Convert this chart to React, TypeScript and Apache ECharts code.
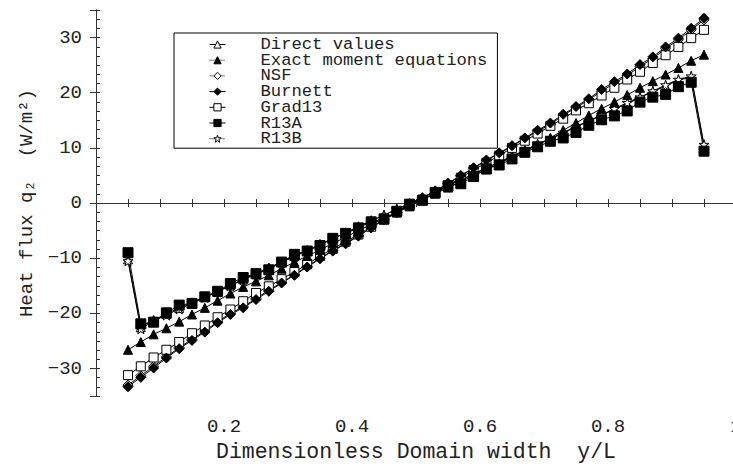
import React, { useEffect, useRef } from 'react';
import * as echarts from 'echarts';

const xValues = [0.05, 0.07, 0.09, 0.11, 0.13, 0.15, 0.17, 0.19, 0.21, 0.23, 0.25, 0.27, 0.29, 0.31, 0.33, 0.35, 0.37, 0.39, 0.41, 0.43, 0.45, 0.47, 0.49, 0.51, 0.53, 0.55, 0.57, 0.59, 0.61, 0.63, 0.65, 0.67, 0.69, 0.71, 0.73, 0.75, 0.77, 0.79, 0.81, 0.83, 0.85, 0.87, 0.89, 0.91, 0.93, 0.95];

const directValues = [-10.2, -22.5, -21.2, -20.1, -19.0, -18.0, -17.0, -16.0, -14.9, -13.8, -12.8, -11.7, -10.7, -9.6, -8.6, -7.5, -6.4, -5.4, -4.3, -3.2, -2.2, -1.1, -0.1, 1.0, 2.0, 3.1, 4.2, 5.2, 6.3, 7.4, 8.4, 9.5, 10.6, 11.6, 12.7, 13.8, 14.8, 15.9, 17.0, 18.0, 19.1, 20.2, 21.2, 22.3, 22.8, 10.3];

const exactValues = [-26.6, -25.2, -23.8, -22.7, -21.5, -20.2, -19.0, -17.7, -16.4, -15.2, -14.2, -13.1, -11.9, -10.7, -9.6, -8.5, -7.3, -6.2, -5.0, -3.9, -2.8, -1.7, -0.6, 0.6, 1.7, 2.8, 3.9, 5.0, 6.1, 7.2, 8.3, 9.4, 10.5, 11.8, 13.2, 14.5, 15.9, 17.1, 18.3, 19.6, 20.9, 22.1, 23.3, 24.5, 25.8, 26.9];

const nsfValues = [-33.0, -31.3, -29.6, -27.9, -26.2, -24.7, -23.2, -21.5, -20.0, -18.8, -17.3, -15.8, -14.4, -13.0, -11.5, -10.0, -8.6, -7.3, -5.9, -4.5, -3.0, -1.7, -0.4, 0.9, 2.2, 3.5, 4.9, 6.3, 7.7, 9.0, 10.3, 11.7, 13.0, 14.3, 15.9, 17.3, 18.7, 20.3, 21.7, 23.1, 24.8, 26.2, 28.0, 29.6, 31.4, 33.2];

const burnettValues = [-33.3, -31.6, -29.9, -28.1, -26.4, -24.9, -23.4, -21.7, -20.2, -19.0, -17.5, -16.0, -14.5, -13.1, -11.6, -10.1, -8.7, -7.4, -6.0, -4.5, -3.0, -1.7, -0.4, 0.9, 2.2, 3.6, 5.0, 6.4, 7.8, 9.1, 10.4, 11.8, 13.2, 14.5, 16.1, 17.5, 18.9, 20.6, 22.0, 23.4, 25.1, 26.5, 28.3, 29.9, 31.7, 33.5];

const grad13Values = [-31.2, -29.6, -28.0, -26.6, -25.2, -23.6, -22.2, -20.7, -19.3, -17.8, -16.3, -15.1, -13.8, -12.5, -11.1, -9.6, -8.3, -7.0, -5.7, -4.3, -3.0, -1.7, -0.5, 0.6, 1.8, 3.2, 4.6, 6.0, 7.3, 8.6, 10.0, 11.3, 12.6, 14.0, 15.3, 16.8, 18.1, 19.5, 20.9, 22.4, 23.8, 25.4, 26.8, 28.3, 29.9, 31.4];

const r13aValues = [-9.0, -21.9, -21.6, -19.9, -18.5, -18.2, -17.0, -16.0, -14.6, -13.5, -12.8, -12.1, -10.7, -9.3, -8.7, -7.7, -6.4, -5.5, -4.5, -3.4, -2.9, -1.5, -0.2, 0.5, 1.9, 3.1, 3.5, 4.8, 6.2, 6.9, 8.0, 9.2, 10.2, 11.2, 11.8, 12.8, 14.1, 15.1, 15.8, 16.7, 18.3, 19.2, 19.7, 21.1, 21.9, 9.4];

const r13bValues = [-10.5, -22.8, -21.4, -20.3, -19.2, -18.2, -17.1, -16.1, -15.0, -13.9, -12.9, -11.8, -10.7, -9.7, -8.6, -7.5, -6.5, -5.4, -4.3, -3.2, -2.2, -1.1, -0.1, 1.0, 2.1, 3.2, 4.2, 5.3, 6.4, 7.4, 8.5, 9.6, 10.7, 11.7, 12.8, 13.9, 14.9, 16.0, 17.1, 18.2, 19.2, 20.3, 21.4, 22.4, 23.0, 10.6];

const legendNames = ['Direct values', 'Exact moment equations', 'NSF', 'Burnett', 'Grad13', 'R13A', 'R13B'];
const legendDotted = [false, true, true, false, false, false, true];
const legendFilled = [false, true, false, true, false, true, false];

const xAxisTitle = 'Dimensionless Domain width  y/L';
const yAxisTitle = 'Heat flux q\u2082  (W/m\u00b2)';

const FONT = '"Liberation Mono", "DejaVu Sans Mono", monospace';
const STAR = 'path://M50,2 L61,36 L97,36 L68,57 L79,92 L50,71 L21,92 L32,57 L3,36 L39,36 Z';

export default function App() {
  const ref = useRef<HTMLDivElement>(null);

  useEffect(() => {
    document.body.style.margin = '0';
    document.body.style.overflow = 'hidden';
    document.documentElement.style.overflow = 'hidden';
    const chart = echarts.init(ref.current!, null, { renderer: 'svg' });

    const pair = (ys: number[]) => xValues.map((x, i) => [x, ys[i]]);
    const mk = (name: string, ys: number[], symbol: string, filled: boolean, size: number) => ({
      name,
      type: 'line',
      data: pair(ys),
      symbol,
      symbolSize: size,
      showAllSymbol: true,
      silent: true,
      itemStyle: { color: filled ? '#000' : '#fff', borderColor: '#000', borderWidth: 1 },
      lineStyle: { color: '#000', width: 1, type: 'solid' },
      emphasis: { disabled: true },
    });

    const yFormatter = (v: number) => {
      const r = Math.round(v);
      if (Math.abs(v - r) > 1e-6 || r % 10 !== 0 || Math.abs(r) >= 35) return '';
      return r < 0 ? '\u2212' + -r : String(r);
    };
    const xFormatter = (v: number) => {
      const k = Math.round(v / 0.2);
      if (Math.abs(v - k * 0.2) > 1e-6 || k === 0) return '';
      return k === 5 ? '1' : (k * 0.2).toFixed(1);
    };

    const axisLine = { show: true, lineStyle: { color: '#333', width: 1 } };
    const textCommon = { fontFamily: FONT, color: '#222' };

    chart.setOption({
      animation: false,
      backgroundColor: '#fff',
      grid: { left: 96, right: 14, top: 10, bottom: 62.5, containLabel: false },
      legend: {
        left: 174,
        top: 33,
        orient: 'vertical',
        selectedMode: false,
        itemWidth: 16,
        itemHeight: 9,
        itemGap: -1.3,
        padding: [3, 10, 1, 35],
        borderColor: '#000',
        borderWidth: 1,
        backgroundColor: '#fff',
        textStyle: { ...textCommon, color: '#222', fontSize: 17.2, lineHeight: 15.5, padding: [0, 0, 0, 30] },
        data: legendNames.map((n, i) => ({
          name: n,
          itemStyle: { color: legendFilled[i] ? '#000' : '#fff', borderColor: '#000', borderWidth: 1 },
          lineStyle: { type: legendDotted[i] ? 'dotted' : 'solid', width: 1, color: '#000' },
        })),
      },
      xAxis: [
        {
          type: 'value',
          position: 'bottom',
          min: 0,
          max: 1,
          interval: 0.05,
          axisLine,
          axisTick: { show: true, inside: true, length: 4, lineStyle: { color: '#333' } },
          axisLabel: { formatter: xFormatter, margin: 21, fontSize: 19, ...textCommon },
          splitLine: { show: false },
          name: xAxisTitle,
          nameLocation: 'middle',
          nameGap: 43,
          nameTextStyle: { ...textCommon, fontSize: 21.5 },
        },
        {
          type: 'value',
          position: 'top',
          min: 0,
          max: 1,
          interval: 0.05,
          axisLine,
          axisTick: { show: true, inside: true, length: 4, lineStyle: { color: '#333' } },
          axisLabel: { show: false },
          splitLine: { show: false },
        },
      ],
      yAxis: [
        {
          type: 'value',
          position: 'left',
          min: -35,
          max: 35,
          interval: 5 / 3,
          axisLine,
          axisTick: { show: true, inside: true, length: 4, lineStyle: { color: '#333' } },
          axisLabel: { formatter: yFormatter, margin: 14, fontSize: 19, ...textCommon },
          splitLine: { show: false },
          name: yAxisTitle,
          nameLocation: 'middle',
          nameGap: 60,
          nameRotate: 90,
          nameTextStyle: { ...textCommon, fontSize: 19 },
        },
        {
          type: 'value',
          position: 'right',
          min: -35,
          max: 35,
          splitNumber: 7,
          axisLine,
          axisTick: { show: true, inside: true, length: 6, lineStyle: { color: '#333' } },
          axisLabel: { show: false },
          splitLine: { show: false },
        },
      ],
      series: [
        mk('Direct values', directValues, 'triangle', false, 9),
        mk('R13B', r13bValues, STAR, false, 10),
        mk('NSF', nsfValues, 'diamond', false, 10),
        mk('Grad13', grad13Values, 'rect', false, 9),
        mk('Burnett', burnettValues, 'diamond', true, 10),
        mk('Exact moment equations', exactValues, 'triangle', true, 9),
        mk('R13A', r13aValues, 'rect', true, 10),
      ],
    });

    return () => chart.dispose();
  }, []);

  return <div ref={ref} style={{ position: 'fixed', left: 0, top: 0, width: 750, height: 468, background: '#fff' }} />;
}
